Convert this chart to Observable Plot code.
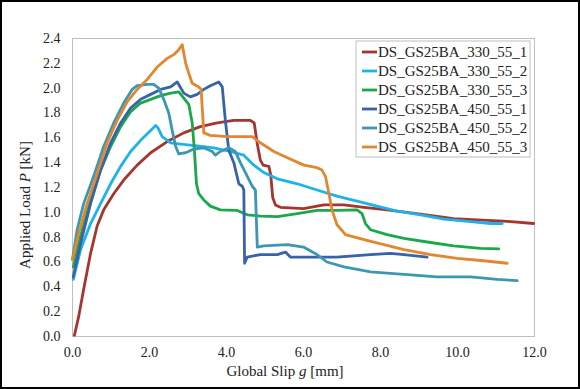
<!DOCTYPE html>
<html><head><meta charset="utf-8">
<script src="https://cdn.jsdelivr.net/npm/d3@7"></script>
<script src="https://cdn.jsdelivr.net/npm/@observablehq/plot@0.6"></script>
<style>
body{margin:0;background:#fff}
#chart{width:580px;height:389px}
#chart svg, #chart svg text{font-family:"Liberation Serif","Times New Roman",serif !important;}
</style>
</head><body><div id="chart"></div>
<script>
const seriesNames = ["DS_GS25BA_330_55_1","DS_GS25BA_330_55_2","DS_GS25BA_330_55_3","DS_GS25BA_450_55_1","DS_GS25BA_450_55_2","DS_GS25BA_450_55_3"];
const seriesColors = ["#a5352f","#1cb2ec","#1aa84b","#3763a9","#3c98b2","#e2862f"];
const xTicks = [0,2,4,6,8,10,12];
const yTicks = [0,0.2,0.4,0.6,0.8,1.0,1.2,1.4,1.6,1.8,2.0,2.2,2.4];
const xLabel = ["Global Slip ","g"," [mm]"];
const yLabel = ["Applied Load ","P"," [kN]"];

const s330_1 = [[0.05,0.01],[0.16,0.16],[0.29,0.38],[0.47,0.67],[0.64,0.89],[0.81,1.02],[1.07,1.15],[1.33,1.26],[1.68,1.38],[2.03,1.48],[2.46,1.57],[2.89,1.64],[3.32,1.69],[3.76,1.72],[4.19,1.74],[4.62,1.74],[4.72,1.72],[4.8,1.55],[4.88,1.42],[4.95,1.38],[5.1,1.37],[5.15,1.3],[5.2,1.12],[5.27,1.06],[5.4,1.04],[6.0,1.03],[6.53,1.06],[7.05,1.06],[7.57,1.04],[8.17,1.02],[9.04,0.985],[9.9,0.95],[10.77,0.935],[11.2,0.93],[11.98,0.91]];
const s330_2 = [[0.02,0.46],[0.21,0.70],[0.47,0.91],[0.73,1.07],[0.99,1.23],[1.25,1.37],[1.51,1.49],[1.77,1.58],[2.03,1.66],[2.16,1.70],[2.22,1.68],[2.33,1.61],[2.55,1.56],[2.81,1.55],[3.24,1.535],[3.67,1.52],[4.1,1.49],[4.45,1.46],[4.71,1.38],[4.97,1.32],[5.32,1.27],[5.84,1.23],[6.35,1.18],[6.87,1.13],[7.39,1.09],[7.91,1.05],[8.43,1.01],[9.04,0.98],[9.65,0.945],[10.34,0.925],[10.86,0.91],[11.16,0.91]];
const s330_3 = [[0.02,0.56],[0.21,0.81],[0.47,1.10],[0.73,1.34],[0.99,1.53],[1.25,1.69],[1.51,1.81],[1.77,1.88],[2.03,1.91],[2.29,1.94],[2.55,1.96],[2.76,1.97],[2.89,1.92],[3.02,1.87],[3.11,1.72],[3.17,1.48],[3.22,1.23],[3.28,1.15],[3.41,1.10],[3.58,1.05],[3.84,1.02],[4.28,1.015],[4.54,0.98],[4.88,0.97],[5.32,0.966],[5.84,0.99],[6.35,1.015],[6.87,1.015],[7.39,1.02],[7.52,0.99],[7.61,0.91],[7.74,0.86],[8.17,0.82],[8.61,0.79],[9.3,0.757],[9.9,0.73],[10.6,0.71],[11.07,0.706]];
const s450_1 = [[0.02,0.48],[0.21,0.75],[0.47,1.07],[0.73,1.34],[0.99,1.56],[1.25,1.72],[1.51,1.84],[1.77,1.91],[2.03,1.95],[2.29,1.99],[2.55,2.01],[2.72,2.05],[2.89,1.96],[3.06,1.93],[3.24,1.95],[3.41,1.99],[3.58,2.02],[3.8,2.05],[3.89,2.01],[3.97,1.74],[4.06,1.50],[4.19,1.40],[4.32,1.23],[4.41,1.21],[4.45,1.18],[4.47,0.59],[4.54,0.64],[4.88,0.66],[5.32,0.66],[5.53,0.68],[5.66,0.64],[6.01,0.64],[6.87,0.64],[7.74,0.66],[8.26,0.67],[8.61,0.66],[9.21,0.64]];
const s450_2 = [[0.0,0.62],[0.12,0.86],[0.29,1.07],[0.55,1.29],[0.81,1.53],[1.07,1.72],[1.33,1.88],[1.55,1.99],[1.68,2.02],[1.94,2.03],[2.11,2.03],[2.24,2.0],[2.37,1.91],[2.5,1.80],[2.59,1.66],[2.68,1.53],[2.76,1.47],[2.94,1.48],[3.15,1.51],[3.41,1.52],[3.63,1.49],[3.71,1.46],[3.84,1.49],[4.06,1.52],[4.23,1.49],[4.36,1.40],[4.54,1.29],[4.67,1.21],[4.75,1.18],[4.8,0.72],[4.97,0.73],[5.58,0.74],[6.0,0.72],[6.35,0.66],[6.61,0.60],[7.05,0.56],[7.74,0.52],[8.61,0.50],[9.47,0.48],[10.34,0.48],[11.03,0.46],[11.55,0.45]];
const s450_3 = [[0.0,0.62],[0.16,0.83],[0.38,1.07],[0.64,1.31],[0.9,1.56],[1.16,1.74],[1.42,1.89],[1.68,1.99],[1.94,2.07],[2.2,2.17],[2.46,2.24],[2.63,2.27],[2.76,2.31],[2.85,2.35],[2.94,2.2],[3.02,2.12],[3.11,2.04],[3.28,2.01],[3.34,1.99],[3.39,1.74],[3.41,1.64],[3.58,1.62],[4.02,1.61],[4.45,1.61],[4.67,1.61],[4.88,1.56],[5.23,1.49],[5.58,1.44],[6.01,1.38],[6.35,1.36],[6.48,1.34],[6.57,1.29],[6.66,1.15],[6.74,1.02],[6.87,0.90],[7.09,0.82],[7.57,0.78],[8.09,0.74],[8.61,0.70],[9.3,0.66],[9.99,0.63],[10.68,0.61],[11.29,0.59]];

const allSeries = [s330_1,s330_2,s330_3,s450_1,s450_2,s450_3];
const rows = [];
allSeries.forEach((s,i)=>s.forEach(([x,y])=>rows.push({x,y,series:seriesNames[i]})));

const serif = "Liberation Serif, Times New Roman, serif";
const plot = Plot.plot({
  width:580, height:389,
  marginLeft:72, marginRight:46, marginTop:38, marginBottom:53,
  style:{fontSize:"14px", color:"#222", background:"#fff"},
  x:{domain:[0,12], ticks:xTicks, tickFormat:d=>d.toFixed(1), label:null, tickSize:0, tickPadding:11},
  y:{domain:[0,2.4], ticks:yTicks, tickFormat:d=>d.toFixed(1), label:null, tickSize:0, tickPadding:12},
  color:{domain:seriesNames, range:seriesColors},
  marks:[
    Plot.frame({stroke:"#bfbfbf"}),
    Plot.line(rows,{x:"x",y:"y",z:"series",stroke:"series",strokeWidth:2.8,strokeLinejoin:"round"})
  ]
});
document.getElementById("chart").appendChild(plot);
const svg = d3.select(plot);
// axis titles
const xt = svg.append("text").attr("x",285).attr("y",376).attr("text-anchor","middle")
  .attr("font-size",15).attr("fill","#222");
xLabel.forEach((t,i)=>xt.append("tspan").attr("font-style",i===1?"italic":null).text(t));
const yt = svg.append("text").attr("transform","translate(30,205) rotate(-90)").attr("text-anchor","middle")
  .attr("font-size",15).attr("fill","#222");
yLabel.forEach((t,i)=>yt.append("tspan").attr("font-style",i===1?"italic":null).text(t));
// legend
const lg = svg.append("g");
lg.append("rect").attr("x",356).attr("y",41).attr("width",174).attr("height",116)
  .attr("fill","#fff").attr("stroke","#bfbfbf");
seriesNames.forEach((n,i)=>{
  const y = 52 + i*19;
  lg.append("line").attr("x1",362).attr("x2",377).attr("y1",y).attr("y2",y)
    .attr("stroke",seriesColors[i]).attr("stroke-width",2.8);
  lg.append("text").attr("x",378).attr("y",y+5).attr("text-anchor","start").attr("font-size",15)
    .attr("fill","#222").text(n);
});
// outer border
svg.append("rect").attr("x",1).attr("y",1).attr("width",578).attr("height",387)
  .attr("fill","none").attr("stroke","#000").attr("stroke-width",2);
</script>
</body></html>
